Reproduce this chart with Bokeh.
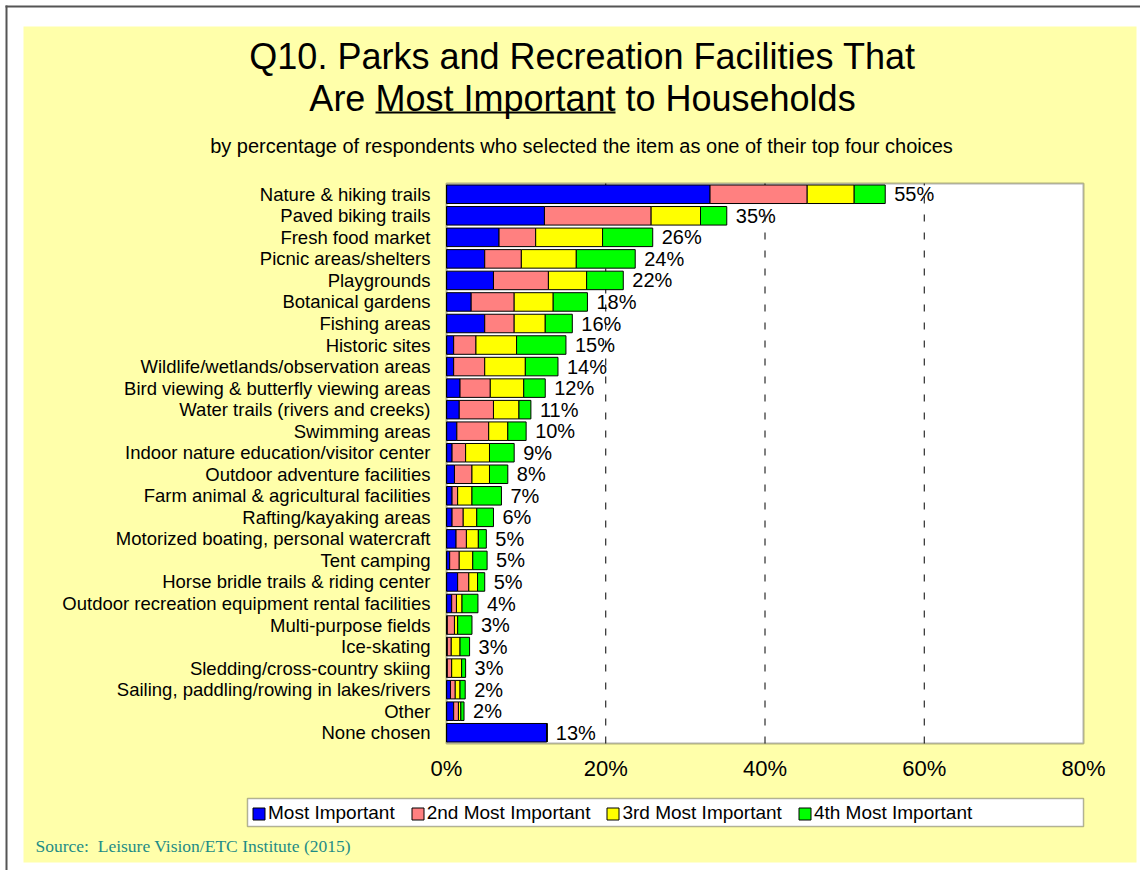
from bokeh.plotting import figure
from bokeh.models import Range1d, Label, BoxAnnotation, ColumnDataSource
from bokeh.embed import file_html
from bokeh.resources import INLINE
from bokeh.core.properties import value

# ---------------- data ----------------
categories = [
    "Nature & hiking trails",
    "Paved biking trails",
    "Fresh food market",
    "Picnic areas/shelters",
    "Playgrounds",
    "Botanical gardens",
    "Fishing areas",
    "Historic sites",
    "Wildlife/wetlands/observation areas",
    "Bird viewing & butterfly viewing areas",
    "Water trails (rivers and creeks)",
    "Swimming areas",
    "Indoor nature education/visitor center",
    "Outdoor adventure facilities",
    "Farm animal & agricultural facilities",
    "Rafting/kayaking areas",
    "Motorized boating, personal watercraft",
    "Tent camping",
    "Horse bridle trails & riding center",
    "Outdoor recreation equipment rental facilities",
    "Multi-purpose fields",
    "Ice-skating",
    "Sledding/cross-country skiing",
    "Sailing, paddling/rowing in lakes/rivers",
    "Other",
    "None chosen",
]
most_important = [33.1, 12.3, 6.6, 4.8, 5.9, 3.1, 4.8, 0.9, 0.9, 1.7, 1.6, 1.3, 0.7,
                  1.0, 0.7, 0.7, 1.2, 0.4, 1.4, 0.65, 0.1, 0.1, 0.1, 0.5, 0.9, 12.6]
second_most = [12.2, 13.4, 4.6, 4.6, 6.9, 5.4, 3.7, 2.8, 3.9, 3.8, 4.3, 4.0, 1.7,
               2.2, 0.7, 1.4, 1.3, 1.2, 1.4, 0.6, 0.9, 0.5, 0.55, 0.6, 0.6, 0.0]
third_most = [5.9, 6.2, 8.4, 6.9, 4.8, 4.9, 3.9, 5.1, 5.1, 4.2, 3.2, 2.4, 3.0,
              2.2, 1.8, 1.7, 1.5, 1.7, 1.1, 0.7, 0.4, 1.1, 1.25, 0.6, 0.3, 0.0]
fourth_most = [3.9, 3.3, 6.3, 7.4, 4.6, 4.3, 3.4, 6.2, 4.1, 2.7, 1.5, 2.3, 3.1,
               2.3, 3.7, 2.1, 1.0, 1.8, 0.9, 2.0, 1.8, 1.2, 0.5, 0.65, 0.4, 0.0]
total_labels = [55, 35, 26, 24, 22, 18, 16, 15, 14, 12, 11, 10, 9, 8, 7, 6, 5, 5, 5,
                4, 3, 3, 3, 2, 2, 13]
series_names = ["Most Important", "2nd Most Important", "3rd Most Important", "4th Most Important"]
series_colors = ["#0000FF", "#FF8080", "#FFFF00", "#00FF00"]
x_ticks = [0, 20, 40, 60, 80]
tick_labels = ["0%", "20%", "40%", "60%", "80%"]

title_line1 = "Q10. Parks and Recreation Facilities That"
title_line2 = "Are Most Important to Households"
subtitle = "by percentage of respondents who selected the item as one of their top four choices"
source_text = "Source:\u00a0 Leisure Vision/ETC Institute (2015)"

# ---------------- layout (page pixel geometry) ----------------
W, H = 1140, 870
FL, FT, FR, FB = 446, 183, 1083, 743   # plot-area edges on the page
YELLOW = "#FFFFAA"
SANS = "Liberation Sans"

n = len(categories)
xmax = x_ticks[-1]
kx = (FR - FL) / xmax          # px per percent
ky = (FB - FT) / n             # px per row
ypos = [n - i - 0.5 for i in range(n)]
ends = [a + b + c + d for a, b, c, d in zip(most_important, second_most, third_most, fourth_most)]

keys = ["most", "second", "third", "fourth"]
source = ColumnDataSource(dict(
    cat=categories, y=ypos, most=most_important, second=second_most, third=third_most,
    fourth=fourth_most, end=ends, lab=[f"{t}%" for t in total_labels],
    zero=[0] * n,
))

p = figure(width=W, height=H, output_backend="svg", toolbar_location=None,
           x_range=Range1d(-FL / kx, (W - FL) / kx),
           y_range=Range1d(-(H - FB) / ky, n + FT / ky),
           x_axis_location=None, y_axis_location=None, min_border=0)
p.title.visible = False
p.outline_line_color = None
p.background_fill_color = "white"
p.border_fill_color = "white"
for g in p.grid:
    g.visible = False


def scr_box(l, r, t, b, **kw):
    return BoxAnnotation(left=l, right=r, top=H - t, bottom=H - b,
                         left_units="screen", right_units="screen",
                         top_units="screen", bottom_units="screen", **kw)


# slide background, grey frame lines
p.add_layout(scr_box(23, 1136, 26, 862, fill_color=YELLOW, fill_alpha=1, line_alpha=0, level="underlay"))
p.add_layout(scr_box(5, 7, 5, H, fill_color="#555555", fill_alpha=1, line_alpha=0, level="underlay"))
p.add_layout(scr_box(5, W, 5, 7, fill_color="#555555", fill_alpha=1, line_alpha=0, level="underlay"))
# plot area (data units)
p.add_layout(BoxAnnotation(left=0, right=xmax, bottom=0, top=n, fill_color="white", fill_alpha=1,
                           line_alpha=0, level="underlay"))
# legend box
p.add_layout(scr_box(247, 1083, 798, 826, fill_color="white", fill_alpha=1, line_color="black",
                     line_width=1.5, level="underlay"))

# value labels, then dashed grid lines over them, then bars
p.text(x="end", y="y", text="lab", source=source, x_offset=9,
       text_baseline="middle", text_align="left",
       text_font=value(SANS), text_font_size="20px", text_color="black")
grid_x = [t for t in x_ticks if 0 < t < xmax]
p.segment(x0=grid_x, x1=grid_x, y0=[0] * len(grid_x), y1=[n] * len(grid_x),
          line_color="black", line_width=1, line_dash="7 11")
p.hbar_stack(keys, y="y", height=0.86, source=source,
             fill_color=series_colors, line_color="black", line_width=1,
             legend_label=series_names)

# plot-area border on top
p.add_layout(BoxAnnotation(left=0, right=xmax, bottom=0, top=n, fill_alpha=0,
                           line_color="black", line_width=2, level="overlay"))

# category labels and x tick labels
p.text(x="zero", y="y", text="cat", source=source, x_offset=-16,
       text_align="right", text_baseline="middle",
       text_font=value(SANS), text_font_size="18.5px", text_color="black")
p.text(x=x_ticks, y=[0] * len(x_ticks), text=tick_labels, y_offset=25,
       text_align="center", text_baseline="middle",
       text_font=value(SANS), text_font_size="22px", text_color="black")

# titles
p.add_layout(Label(x=582, y=H - 56, x_units="screen", y_units="screen", text=title_line1,
                   text_align="center", text_baseline="alphabetic",
                   text_font=SANS, text_font_size="36px", text_color="black"))
p.add_layout(Label(x=582, y=H - 98, x_units="screen", y_units="screen", text=title_line2,
                   text_align="center", text_baseline="alphabetic",
                   text_font=SANS, text_font_size="36px", text_color="black"))
p.add_layout(scr_box(375, 615, 111, 113, fill_color="black", fill_alpha=1, line_alpha=0))
p.add_layout(Label(x=581, y=H - 145, x_units="screen", y_units="screen", text=subtitle,
                   text_align="center", text_baseline="alphabetic",
                   text_font=SANS, text_font_size="20px", text_color="black"))
p.add_layout(Label(x=35, y=H - 845, x_units="screen", y_units="screen", text=source_text,
                   text_align="left", text_baseline="alphabetic",
                   text_font="Liberation Serif", text_font_size="17.5px", text_color="#1E8C86"))

# legend
leg = p.legend[0]
leg.orientation = "horizontal"
leg.location = (247, H - 828)
leg.padding = 4
leg.spacing = 15
leg.glyph_width = 15
leg.glyph_height = 15
leg.label_standoff = 2
leg.label_text_font = SANS
leg.label_text_font_size = "19px"
leg.label_text_color = "black"
leg.background_fill_alpha = 0
leg.border_line_alpha = 0

open("out.html", "w").write(file_html(p, INLINE))
